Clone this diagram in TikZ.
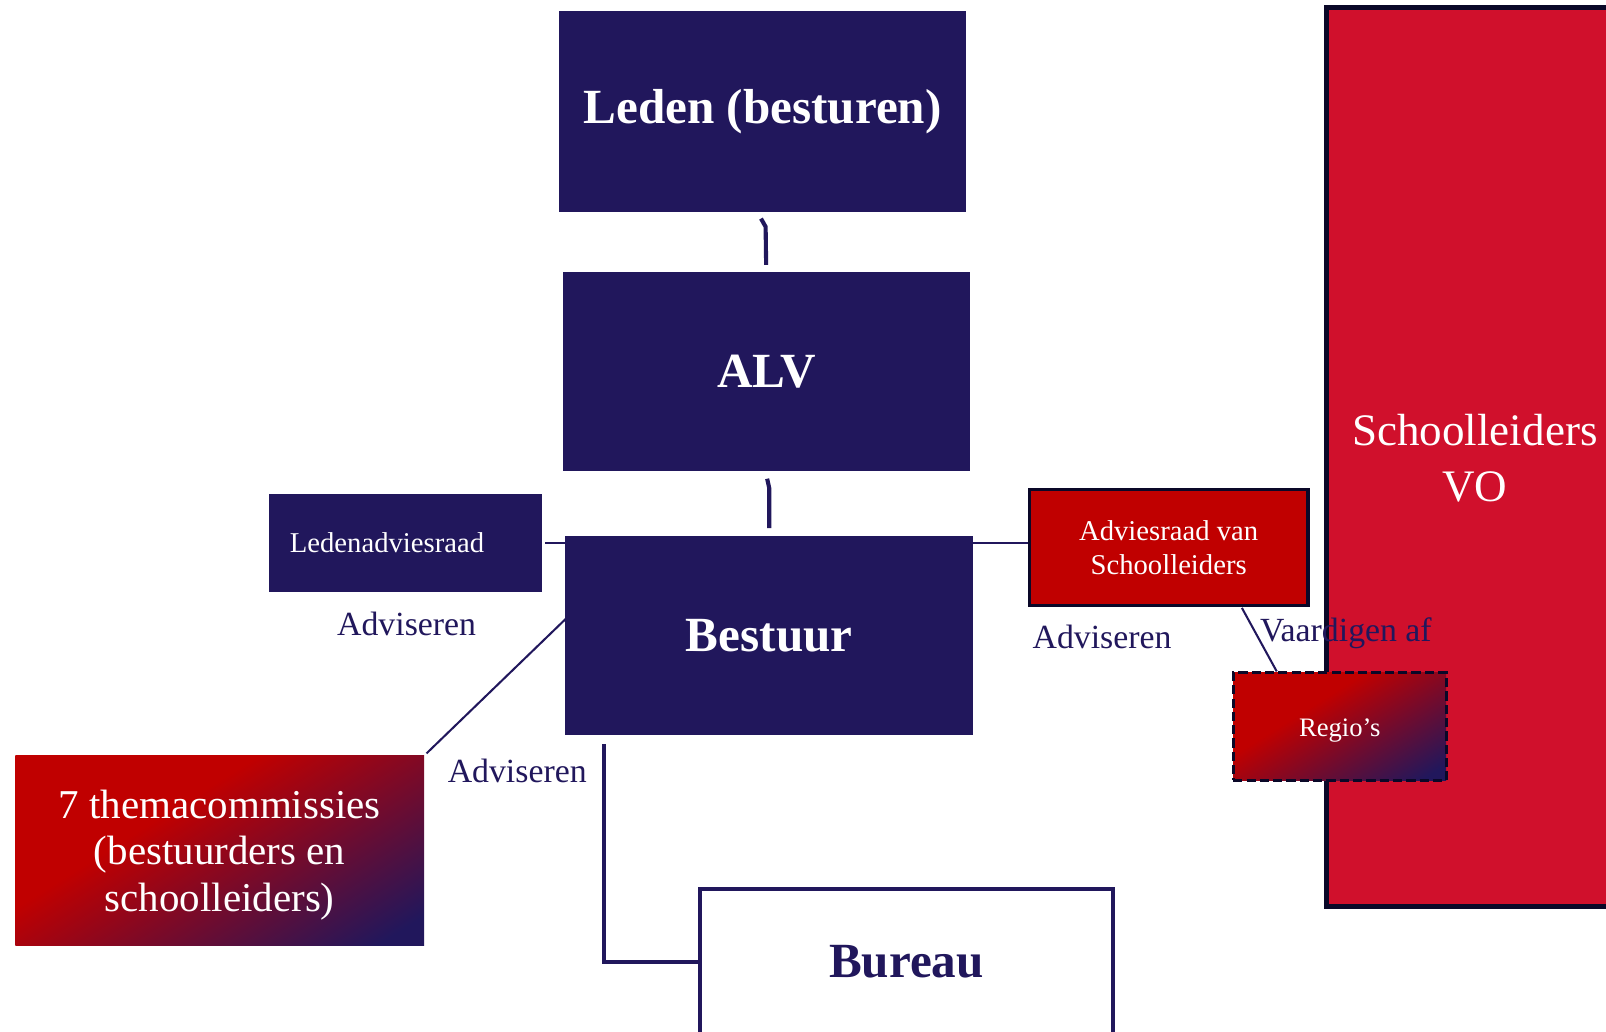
\documentclass[tikz,border=0pt]{standalone}
\usepackage{fontspec}
\setmainfont{Liberation Serif}
\usetikzlibrary{calc}
\definecolor{navy}{HTML}{21175C}
\definecolor{redC}{HTML}{C00000}
\definecolor{vored}{HTML}{D0102C}
\definecolor{darkline}{HTML}{0A0828}
\pgfdeclarehorizontalshading{rednavy}{100bp}{color(0bp)=(redC); color(25bp)=(redC); color(39bp)=(redC); color(80bp)=(navy); color(100bp)=(navy)}
\begin{document}
\begin{tikzpicture}[x=0.5pt,y=-0.5pt,
  navybox/.style={rectangle, fill=navy, text=white, inner sep=0pt},
  titlefont/.style={font=\fontsize{24}{28}\selectfont\bfseries},
  lbl/.style={text=navy, font=\fontsize{16.5}{20}\selectfont, inner sep=0pt},
  thickline/.style={draw=navy, line width=2pt},
  thinline/.style={draw=navy, line width=1pt},
  gradfill/.style={shading=rednavy, shading angle=-58}
]
\clip (0,0) rectangle (1568,1007);
\fill[white] (0,0) rectangle (1568,1007);

% main column
\node[navybox, titlefont, minimum width=198.5pt, minimum height=98pt] (leden) at (744.5,109) {Leden (besturen)};
\node[navybox, titlefont, minimum width=198.5pt, minimum height=97pt] (alv) at (748.5,363) {ALV};
\node[navybox, titlefont, minimum width=199pt, minimum height=97.5pt] (bestuur) at (751,620.5) {Bestuur};

% left
\node[navybox, minimum height=48pt, text width=113pt, inner xsep=10pt, align=left,
      font=\fontsize{14}{17}\selectfont] (lar) at (396,530) {Ledenadviesraad};
\node[lbl] (adv1) at (397,609) {Adviseren};

\node[rectangle, gradfill, text=white, minimum width=199.5pt, minimum height=92.5pt,
      font=\fontsize{20}{22.5}\selectfont] (thema) at (214.5,830.5)
      {\raisebox{-2.5pt}[\height][\depth]{\begin{tabular}{@{}c@{}}7 themacommissies\\(bestuurders en\\schoolleiders)\end{tabular}}};
\node[lbl] (adv3) at (505,753) {Adviseren};

% right big box
\node[rectangle, fill=vored, draw=darkline, line width=2.5pt, text=white, minimum width=162.5pt, minimum height=439pt,
      font=\fontsize{22}{27.5}\selectfont] (vo) at (1457.5,446)
      {\raisebox{-2.5pt}[\height][\depth]{\begin{tabular}{@{}c@{}}Schoolleiders\\VO\end{tabular}}\kern17.5pt\relax};

\node[rectangle, fill=redC, draw=darkline, line width=1.5pt, text=white, minimum width=136pt, minimum height=56.5pt,
      align=center, font=\fontsize{14}{16.5}\selectfont] (ars) at (1141,534.5) {Adviesraad van\\Schoolleiders};
\node[lbl] (adv2) at (1076,622) {Adviseren};

\node[rectangle, gradfill, draw=darkline, line width=1.5pt, dash pattern=on 4.5pt off 2pt, text=white,
      minimum width=104pt, minimum height=52.5pt, font=\fontsize{13}{16}\selectfont] (regio) at (1308,709.5)
      {\raisebox{-2pt}[\height][\depth]{Regio’s}};

% bureau
\node[rectangle, fill=white, draw=navy, line width=2pt, text=navy, titlefont, minimum width=202pt, minimum height=71pt] (bureau) at (885,939) {Bureau};

% connectors
\draw[thickline] ($(leden.south)+(-1.5,6)$) -- ++(4.5,8) -- ($(alv.north)+(-0.5,-7)$);
\draw[thickline] ($(alv.south)+(0.5,7)$) -- ++(2,9) -- ($(bestuur.north)+(0,-7)$);
\draw[thinline] ($(lar.east)+(3,0)$) -- (bestuur.west |- lar.east);
\draw[thinline] ($(ars.west)+(0,-4.5)$) -- (bestuur.east |- {$(ars.west)+(0,-4.5)$});
\draw[thinline] ($(thema.north east)+(2,-2)$) -- ($(bestuur.west)+(1,-16.5)$);
\draw[thinline] ($(ars.south west)+(209,1)$) -- ($(regio.north west)+(44,0)$);
\draw[thickline] ($(bestuur.south west)+(38,8)$) |- (bureau.west);

\node[lbl] (vaard) at (1314,618) {Vaardigen af};
\end{tikzpicture}
\end{document}
